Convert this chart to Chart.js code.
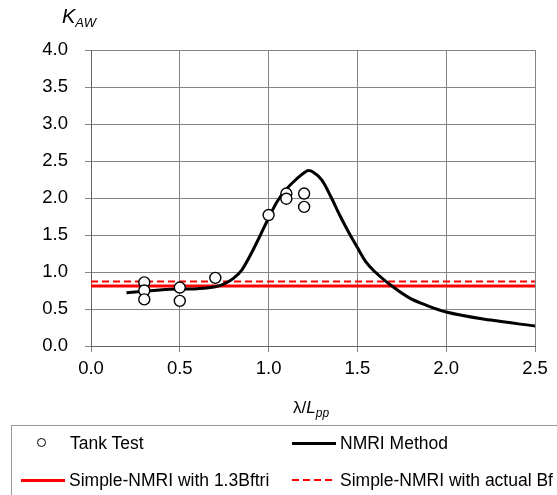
<!DOCTYPE html>
<html>
<head>
<meta charset="utf-8">
<script src="https://cdn.jsdelivr.net/npm/chart.js@4/dist/chart.umd.min.js"></script>
<style>
  html, body { margin: 0; padding: 0; background: #fff; }
  body { width: 557px; height: 495px; position: relative; overflow: hidden;
         font-family: 'Liberation Sans', Arial, sans-serif; color: #000; }
  #chart { position: absolute; left: 0; top: 0; }
  .lbl { position: absolute; white-space: nowrap; line-height: 1; }
  .legend-box { position: absolute; left: 11px; top: 425px; width: 600px; height: 120px;
                border: 1px solid #9a9a9a; box-sizing: border-box; }
  .legend-text { position: absolute; font-size: 17.5px; white-space: nowrap; line-height: 20px; }
  .swatch { position: absolute; height: 0; }
  .marker { position: absolute; width: 7px; height: 7px; border: 1.5px solid #000;
            border-radius: 50%; background: #fff; }
</style>
</head>
<body>
<canvas id="chart" width="557" height="495"></canvas>

<div class="lbl" style="left:62px; top:6px; font-size:20px; font-style:italic;">K<span style="font-size:13px; position:relative; top:4px;">AW</span></div>
<div class="lbl" style="left:293px; top:399px; font-size:17px;">λ/<i>L</i><span style="font-size:12px; position:relative; top:4px; font-style:italic;">pp</span></div>

<div class="legend-box"></div>
<div class="marker" style="left:37px; top:438px;"></div>
<div class="legend-text" style="left:70px; top:433px;">Tank Test</div>
<div class="swatch" style="left:292px; top:442px; width:44px; border-top:3px solid #000;"></div>
<div class="legend-text" style="left:340px; top:433px;">NMRI Method</div>
<div class="swatch" style="left:21px; top:479px; width:44px; border-top:3px solid #ff0000;"></div>
<div class="legend-text" style="left:69px; top:470px;">Simple-NMRI with 1.3Bftri</div>
<div class="swatch" style="left:292px; top:479px; width:44px; height:2px; background:repeating-linear-gradient(90deg,#ff0000 0 7px,transparent 7px 11px);"></div>
<div class="legend-text" style="left:340px; top:470px;">Simple-NMRI with actual Bf</div>

<script>
// Tank test measurements
const tankLambda = [0.3, 0.3, 0.3, 0.5, 0.5, 0.7, 1.0, 1.1, 1.1, 1.2, 1.2];
const tankKaw    = [0.86, 0.75, 0.63, 0.79, 0.61, 0.92, 1.77, 2.06, 1.99, 2.06, 1.88];

// NMRI method curve
const nmriLambda = [0.2, 0.3, 0.4, 0.5, 0.6, 0.7, 0.75, 0.8, 0.85, 0.9, 0.95, 1.0, 1.05, 1.1, 1.15,
                    1.2, 1.225, 1.25, 1.3, 1.35, 1.4, 1.45, 1.5, 1.55, 1.6, 1.7, 1.8, 1.9, 2.0, 2.25, 2.5];
const nmriKaw    = [0.72, 0.74, 0.76, 0.77, 0.775, 0.80, 0.84, 0.91, 1.03, 1.24, 1.48, 1.73, 1.96, 2.12, 2.24,
                    2.34, 2.37, 2.35, 2.24, 2.02, 1.77, 1.54, 1.33, 1.13, 1.00, 0.80, 0.64, 0.54, 0.46, 0.35, 0.27];

// Simple-NMRI constant levels
const simpleLambda   = [0, 2.5];
const simple13Bftri  = [0.81, 0.81];
const simpleActualBf = [0.87, 0.87];

// Axis ranges and tick spacing
const xRange = [0, 2.5];
const yRange = [0, 4];
const tickStep = 0.5;

const toPoints = (xs, ys) => xs.map((x, i) => ({ x: x, y: ys[i] }));

const FONT = "'Liberation Sans', Arial, sans-serif";
const GRID = '#858585';

new Chart(document.getElementById('chart'), {
  type: 'scatter',
  data: {
    datasets: [
      {
        label: 'Tank Test',
        data: toPoints(tankLambda, tankKaw),
        showLine: false,
        pointRadius: 5.5,
        pointBorderWidth: 1.4,
        pointBackgroundColor: '#ffffff',
        pointBorderColor: '#000000',
        order: 0
      },
      {
        label: 'NMRI Method',
        data: toPoints(nmriLambda, nmriKaw),
        showLine: true,
        borderColor: '#000000',
        borderWidth: 3,
        pointRadius: 0,
        cubicInterpolationMode: 'monotone',
        order: 1
      },
      {
        label: 'Simple-NMRI with 1.3Bftri',
        data: toPoints(simpleLambda, simple13Bftri),
        showLine: true,
        borderColor: '#ff0000',
        borderWidth: 3,
        pointRadius: 0,
        order: 2
      },
      {
        label: 'Simple-NMRI with actual Bf',
        data: toPoints(simpleLambda, simpleActualBf),
        showLine: true,
        borderColor: '#ff0000',
        borderWidth: 2,
        borderDash: [7, 4],
        pointRadius: 0,
        order: 3
      }
    ]
  },
  options: {
    responsive: false,
    devicePixelRatio: 1,
    animation: false,
    layout: { padding: { top: 50, right: 22, left: 0, bottom: 0 } },
    plugins: { legend: { display: false }, tooltip: { enabled: false } },
    scales: {
      x: {
        type: 'linear',
        min: xRange[0], max: xRange[1],
        afterFit: (s) => { s.height = 149; },
        ticks: {
          stepSize: tickStep,
          color: '#000',
          padding: 6,
          font: { family: FONT, size: 18.5 },
          callback: (v) => Number(v).toFixed(1)
        },
        grid: { color: GRID, lineWidth: 1, tickLength: 6, tickColor: GRID },
        border: { color: '#666', width: 1 }
      },
      y: {
        type: 'linear',
        min: yRange[0], max: yRange[1],
        afterFit: (s) => { s.width = 91; },
        ticks: {
          stepSize: tickStep,
          color: '#000',
          padding: 17,
          font: { family: FONT, size: 18.5 },
          callback: (v) => Number(v).toFixed(1)
        },
        grid: { color: GRID, lineWidth: 1, tickLength: 6, tickColor: GRID },
        border: { color: '#666', width: 1 }
      }
    }
  }
});
</script>
</body>
</html>
